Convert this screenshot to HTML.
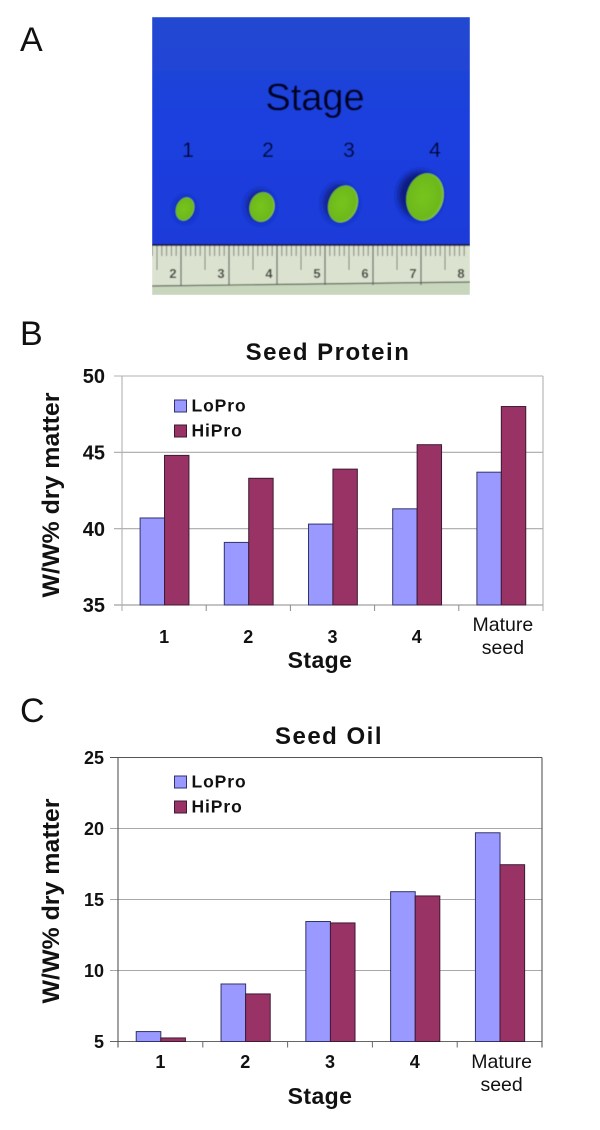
<!DOCTYPE html>
<html lang="en">
<head>
<meta charset="utf-8">
<title>Seed stages, protein and oil</title>
<style>
html,body{margin:0;padding:0;background:#fff;}
body{width:600px;height:1130px;overflow:hidden;}
svg{display:block;}
text{font-family:"Liberation Sans",Arial,sans-serif;fill:#111;}
</style>
</head>
<body>
<svg id="fig" xmlns="http://www.w3.org/2000/svg" width="600" height="1130" viewBox="0 0 600 1130">
  <defs>
    <linearGradient id="blueBg" x1="0" y1="0" x2="0" y2="1">
      <stop offset="0" stop-color="#2348d0"/>
      <stop offset="0.5" stop-color="#1c40e0"/>
      <stop offset="1" stop-color="#1a3bd8"/>
    </linearGradient>
    <radialGradient id="beanFill" cx="0.45" cy="0.5" r="0.62">
      <stop offset="0" stop-color="#78c41e"/>
      <stop offset="0.75" stop-color="#6cb81c"/>
      <stop offset="1" stop-color="#a4d050"/>
    </radialGradient>
    <clipPath id="photoClip"><rect x="152" y="17" width="318" height="278"/></clipPath>
    <filter id="soft" x="-5%" y="-5%" width="110%" height="110%"><feGaussianBlur stdDeviation="0.45"/></filter>
    <filter id="shadowBlur" x="-50%" y="-50%" width="200%" height="200%"><feGaussianBlur stdDeviation="3"/></filter>
  </defs>

  <text x="20" y="51" font-size="34">A</text>
  <text x="20" y="345" font-size="34">B</text>
  <text x="20" y="722" font-size="34">C</text>

  <g id="photo" filter="url(#soft)" clip-path="url(#photoClip)">
    <rect x="152" y="17" width="318" height="229" fill="url(#blueBg)"/>
    <rect x="152" y="245" width="318" height="50" fill="#dce2d0"/>
    <rect x="152" y="244" width="318" height="2" fill="#141a3a"/>
    <polygon points="152,286 470,282 470,295 152,295" fill="#c8d6be"/>
    <line x1="152" y1="286" x2="470" y2="282" stroke="#55604f" stroke-width="1.2"/>
    <g id="rulerTicks"></g>
    <text x="315" y="110" font-size="38" text-anchor="middle" style="fill:#00001e">Stage</text>
    <text x="188" y="157" font-size="21" text-anchor="middle" style="fill:#00001e">1</text>
    <text x="268" y="157" font-size="21" text-anchor="middle" style="fill:#00001e">2</text>
    <text x="349" y="157" font-size="21" text-anchor="middle" style="fill:#00001e">3</text>
    <text x="435" y="157" font-size="21" text-anchor="middle" style="fill:#00001e">4</text>

    <ellipse cx="185" cy="209" rx="10" ry="12" fill="#12209a" filter="url(#shadowBlur)"/>
    <ellipse cx="260" cy="206" rx="14" ry="16" fill="#12208a" filter="url(#shadowBlur)"/>
    <ellipse cx="340" cy="203" rx="17" ry="19" fill="#12208a" filter="url(#shadowBlur)"/>
    <ellipse cx="420" cy="195" rx="22" ry="24" fill="#101c80" filter="url(#shadowBlur)"/>
    <ellipse cx="185" cy="209" rx="9" ry="12" transform="rotate(20 185 209)" fill="url(#beanFill)"/>
    <ellipse cx="262" cy="207" rx="12.5" ry="15" transform="rotate(15 262 207)" fill="url(#beanFill)"/>
    <ellipse cx="343" cy="204" rx="14.5" ry="19" transform="rotate(20 343 204)" fill="url(#beanFill)"/>
    <ellipse cx="425" cy="197" rx="18.5" ry="24" transform="rotate(14 425 197)" fill="url(#beanFill)"/>
  </g>

  <g id="chartB"></g>
  <g id="chartC"></g>
</svg>

<script>
// Shared categories
const stageCategories = ["1", "2", "3", "4", ["Mature", "seed"]];

// Seed Protein values
const proteinLoPro = [40.7, 39.1, 40.3, 41.3, 43.7];
const proteinHiPro = [44.8, 43.3, 43.9, 45.5, 48.0];
const proteinTicks = [35, 40, 45, 50];

// Seed Oil values
const oilLoPro = [5.7, 9.05, 13.45, 15.55, 19.7];
const oilHiPro = [5.25, 8.35, 13.35, 15.25, 17.45];
const oilTicks = [5, 10, 15, 20, 25];

// Ruler numbers
const rulerNumbers = [2, 3, 4, 5, 6, 7, 8];

const NS = "http://www.w3.org/2000/svg";
function mk(parent, tag, attrs, txt) {
  const e = document.createElementNS(NS, tag);
  for (const k in attrs) e.setAttribute(k, attrs[k]);
  if (txt !== undefined) e.textContent = txt;
  parent.appendChild(e);
  return e;
}

// Ruler drawing
(function () {
  const g = document.getElementById("rulerTicks");
  const xFor = function (n) { return 173 + (n - 2) * 48; };
  for (let i = -1; i < 66; i++) {
    const x = 181 + (i - 6) * 4.8;
    const step = ((i - 6) % 10 + 10) % 10;
    const major = step === 0;
    const mid = step === 5;
    const tick = mk(g, "line", {x1: x, x2: x, y1: 246, y2: major ? 285 : mid ? 270 : 256, stroke: "#5b6156", "stroke-width": major ? 1.2 : 0.8});
    
    
  }
  rulerNumbers.forEach(function (n) {
    const label = mk(g, "text", {x: xFor(n), y: 278, "font-size": 13, "font-weight": "bold", "text-anchor": "middle", style: "fill:#3c4038"}, String(n));
    
    
  });
})();

function drawChart(cfg) {
  const g = cfg.root;
  const left = cfg.left, right = cfg.right, top = cfg.top, bottom = cfg.bottom;
  const minV = cfg.ticks[0], maxV = cfg.ticks[cfg.ticks.length - 1];
  const yScale = function (v) { return bottom - (v - minV) / (maxV - minV) * (bottom - top); };
  const catW = (right - left) / cfg.categories.length;
  const xCat = function (i) { return left + i * catW; };
  const barW = catW * 0.29;

  // gridlines and y ticks
  cfg.ticks.forEach(function (t) {
    const y = yScale(t);
    const isBase = t === minV;
    const grid = mk(g, "line", {x1: left - 8, x2: right, y1: y, y2: y, stroke: isBase ? cfg.baseColor : (t === maxV ? cfg.frameColor : "#a8a8a8"), "stroke-width": 1.1});
    
    
    const lab = mk(g, "text", {x: left - cfg.tickGap, y: y + cfg.tickSize * 0.36, "font-size": cfg.tickSize, "font-weight": "bold", "text-anchor": "end"}, String(t));
    
    
  });

  // frame
  const frameL = mk(g, "line", {x1: left, x2: left, y1: top, y2: bottom + 6, stroke: cfg.frameColor, "stroke-width": 1.1});
  
  
  const frameR = mk(g, "line", {x1: right, x2: right, y1: top, y2: bottom + 6, stroke: cfg.frameColor, "stroke-width": 1.1});
  
  

  // bars and categories
  cfg.categories.forEach(function (cat, i) {
    const x0 = xCat(i) + catW * 0.215;
    const loBar = mk(g, "rect", {x: x0, y: yScale(cfg.lo[i]), width: barW, height: bottom - yScale(cfg.lo[i]), fill: "#9999ff", stroke: "#33336b", "stroke-width": 1});
    
    
    const hiBar = mk(g, "rect", {x: x0 + barW, y: yScale(cfg.hi[i]), width: barW, height: bottom - yScale(cfg.hi[i]), fill: "#993366", stroke: "#3d1a33", "stroke-width": 1});
    
    

    if (i > 0) {
      const tick = mk(g, "line", {x1: xCat(i), x2: xCat(i), y1: bottom, y2: bottom + 6, stroke: cfg.baseColor, "stroke-width": 1});
      
      
    }
    const cx = xCat(i) + catW / 2;
    if (Array.isArray(cat)) {
      cat.forEach(function (line, j) {
        const t = mk(g, "text", {x: cx + 2, y: cfg.matureY + j * 23, "font-size": 19.5, "text-anchor": "middle"}, line);
        
        
      });
    } else {
      const t = mk(g, "text", {x: cx, y: cfg.catY, "font-size": 18, "font-weight": "bold", "text-anchor": "middle"}, cat);
      
      
    }
  });

  // titles
  const title = mk(g, "text", {x: cfg.titleX, y: cfg.titleY, "font-size": 24, "font-weight": "bold", "text-anchor": "middle", "letter-spacing": "1.5"}, cfg.title);
  
  
  const xTitle = mk(g, "text", {x: 320, y: cfg.xTitleY, "font-size": 23, "font-weight": "bold", "text-anchor": "middle", "letter-spacing": "0.4"}, "Stage");
  
  
  const yTitle = mk(g, "text", {transform: "translate(59 " + cfg.yTitleMid + ") rotate(-90)", "font-size": 24, "font-weight": "bold", "text-anchor": "middle", textLength: 205, lengthAdjust: "spacingAndGlyphs"}, "W/W% dry matter");
  
  

  // legend
  const loSwatch = mk(g, "rect", {x: 174.500, y: cfg.legendY, width: 12, height: 12, fill: "#9999ff", stroke: "#33336b", "stroke-width": 1});
  
  
  const loText = mk(g, "text", {x: 191.500, y: cfg.legendY + 11.5, "font-size": 17.5, "font-weight": "bold", "letter-spacing": "0.9"}, "LoPro");
  
  
  const hiSwatch = mk(g, "rect", {x: 174.500, y: cfg.legendY + 25, width: 12, height: 12, fill: "#993366", stroke: "#3d1a33", "stroke-width": 1});
  
  
  const hiText = mk(g, "text", {x: 191.500, y: cfg.legendY + 36.5, "font-size": 17.5, "font-weight": "bold", "letter-spacing": "0.9"}, "HiPro");
  
  
}

drawChart({
  root: document.getElementById("chartB"),
  categories: stageCategories, lo: proteinLoPro, hi: proteinHiPro, ticks: proteinTicks,
  left: 122, right: 543, top: 376, bottom: 605,
  frameColor: "#b0b0b0", baseColor: "#8a8a8a",
  tickSize: 20, tickGap: 17, catY: 643, matureY: 631,
  title: "Seed Protein", titleX: 328, titleY: 360, xTitleY: 668,
  yTitleMid: 495, legendY: 400
});

drawChart({
  root: document.getElementById("chartC"),
  categories: stageCategories, lo: oilLoPro, hi: oilHiPro, ticks: oilTicks,
  left: 118, right: 542, top: 757.5, bottom: 1041.5,
  frameColor: "#555555", baseColor: "#666666",
  tickSize: 18, tickGap: 14, catY: 1068, matureY: 1068,
  title: "Seed Oil", titleX: 329, titleY: 744, xTitleY: 1104,
  yTitleMid: 901, legendY: 776
});
</script>
</body>
</html>
